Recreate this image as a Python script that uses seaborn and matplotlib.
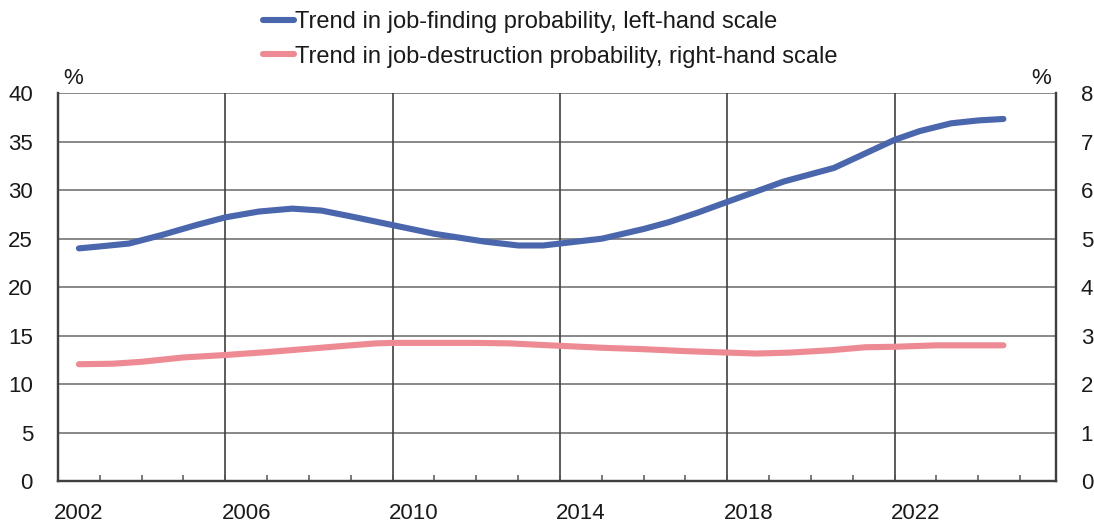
import numpy as np
import pandas as pd
import matplotlib
matplotlib.use('Agg')
import matplotlib.pyplot as plt
import seaborn as sns

# ---- data ----
finding_years = [2002.5, 2003.0, 2003.7, 2004.5, 2005.3, 2006.0, 2006.8, 2007.6, 2008.3,
                 2009.0, 2010.0, 2011.0, 2012.2, 2013.0, 2013.6, 2014.0, 2015.0, 2016.0,
                 2016.6, 2017.3, 2018.0, 2019.35, 2020.55, 2021.2, 2022.0, 2022.6,
                 2023.35, 2024.0, 2024.6]
finding_prob = [24.0, 24.2, 24.5, 25.4, 26.4, 27.2, 27.8, 28.1, 27.9,
                27.3, 26.4, 25.5, 24.7, 24.3, 24.3, 24.5, 25.0, 26.0,
                26.7, 27.7, 28.8, 30.9, 32.3, 33.6, 35.2, 36.1,
                36.9, 37.2, 37.35]

destruction_years = [2002.5, 2003.3, 2004.0, 2005.0, 2006.0, 2007.0, 2008.0, 2009.0,
                     2009.6, 2010.0, 2011.0, 2012.0, 2012.8, 2013.5, 2014.0, 2015.0,
                     2016.0, 2017.0, 2018.0, 2018.7, 2019.5, 2020.5, 2021.3, 2022.0,
                     2023.0, 2024.6]
destruction_prob = [2.41, 2.42, 2.46, 2.55, 2.60, 2.66, 2.73, 2.80,
                    2.84, 2.85, 2.85, 2.85, 2.84, 2.81, 2.79, 2.75,
                    2.72, 2.68, 2.65, 2.63, 2.65, 2.70, 2.76, 2.77,
                    2.80, 2.80]

label_years = [2002, 2006, 2010, 2014, 2018, 2022]
left_ticks = [0, 5, 10, 15, 20, 25, 30, 35, 40]
right_ticks = [0, 1, 2, 3, 4, 5, 6, 7, 8]

finding_df = pd.DataFrame({'year': finding_years, 'prob': finding_prob})
destruction_df = pd.DataFrame({'year': destruction_years, 'prob': destruction_prob})

blue = '#4A66AC'
pink = '#EE8A93'
ink = '#1a1a1a'

sns.set_style('white')
plt.rcParams['font.family'] = ['Liberation Sans', 'DejaVu Sans']
plt.rcParams['text.color'] = ink
plt.rcParams['xtick.color'] = ink
plt.rcParams['ytick.color'] = ink

fig = plt.figure(figsize=(10.94, 5.24), dpi=100)
ax = fig.add_axes([0.053, 0.082, 0.912, 0.740])
ax2 = ax.twinx()

# gridlines
for v in left_ticks:
    ax.axhline(v, color='#7f7f7f', linewidth=1.3, zorder=0)
for yr in label_years:
    ax.axvline(yr, color='#404040', linewidth=1.2, zorder=0)

sns.lineplot(data=finding_df, x='year', y='prob', ax=ax, color=blue, linewidth=4.4,
             solid_capstyle='round', label='Trend in job-finding probability, left-hand scale',
             legend=False)
sns.lineplot(data=destruction_df, x='year', y='prob', ax=ax2, color=pink, linewidth=4.4,
             solid_capstyle='round', label='Trend in job-destruction probability, right-hand scale',
             legend=False)

ax.set_xlim(2002, 2025.85)
ax.set_ylim(0, 40)
ax2.set_ylim(0, 8)
ax.set_yticks(left_ticks)
ax2.set_yticks(right_ticks)

# year labels sit in the middle of the year
ax.set_xticks([y + 0.5 for y in label_years])
ax.set_xticklabels([str(y) for y in label_years])
ax.set_xticks(np.arange(2002, 2026), minor=True)
ax.tick_params(axis='x', which='major', length=0, pad=16, labelsize=16)
ax.tick_params(axis='x', which='minor', direction='in', length=4, width=1.1, color='#555555', bottom=True)
ax.tick_params(axis='y', length=0, pad=18, labelsize=16)
ax2.tick_params(axis='y', length=0, pad=18, labelsize=16)

ax.set_xlabel('')
ax.set_ylabel('')
ax2.set_ylabel('')

for a in (ax, ax2):
    for side in ['left', 'right', 'bottom']:
        a.spines[side].set_visible(True)
        a.spines[side].set_color('#404040')
        a.spines[side].set_linewidth(1.6)
    a.spines['top'].set_visible(False)

ax.text(0.005, 1.012, '%', transform=ax.transAxes, fontsize=16, ha='left', va='bottom')
ax.text(0.995, 1.012, '%', transform=ax.transAxes, fontsize=16, ha='right', va='bottom')

h1, l1 = ax.get_legend_handles_labels()
h2, l2 = ax2.get_legend_handles_labels()
fig.legend(h1 + h2, l1 + l2, loc='upper left', bbox_to_anchor=(0.221, 1.02), frameon=False,
           fontsize=17, handlelength=1.3, handletextpad=0.05, labelspacing=0.55)

fig.savefig('out.png', dpi=100)
plt.close()
